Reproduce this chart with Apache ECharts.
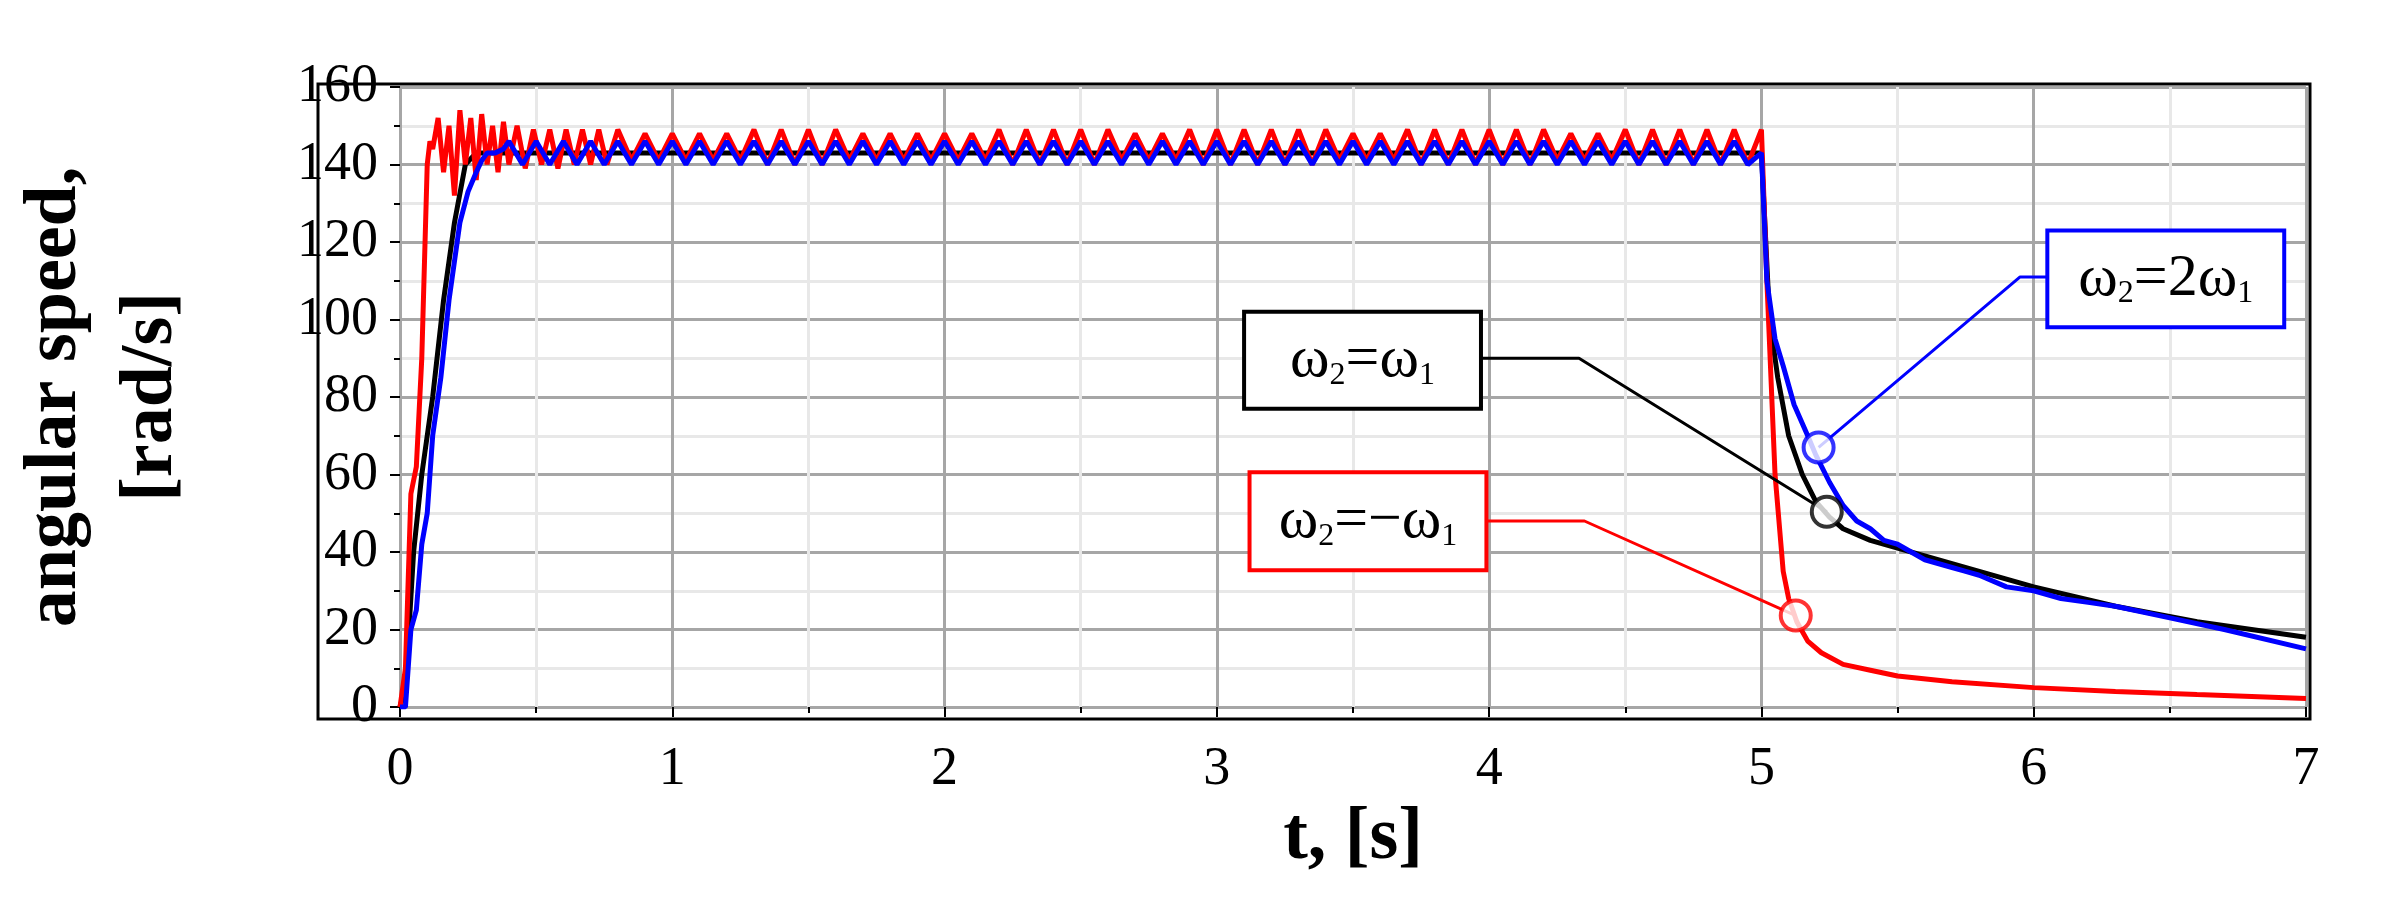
<!DOCTYPE html>
<html><head><meta charset="utf-8">
<script src="https://cdn.jsdelivr.net/npm/echarts@6/dist/echarts.min.js"></script>
<style>html,body{margin:0;padding:0;background:#fff}#c{width:2400px;height:906px}</style>
</head><body><div id="c"></div>
<script>
// time axis ticks
const xTicks = [0,1,2,3,4,5,6,7];
const yTicks = [0,20,40,60,80,100,120,140,160];
// red: omega2 = -omega1
const redT = [0,0.02,0.04,0.06,0.08,0.1,0.11,0.12,0.14,0.16,0.18,0.2,0.22,0.24,0.26,0.28,0.3,0.32,0.34,0.36,0.38,0.4,0.43,0.46,0.49,0.52,0.55,0.58,0.61,0.64,0.67,0.7,0.73,0.76,
 0.8,0.85,0.9,0.95,1.0,1.05,1.1,1.15,1.2,1.25,1.3,1.35,1.4,1.45,1.5,1.55,1.6,1.65,1.7,1.75,1.8,1.85,1.9,1.95,2.0,2.05,2.1,2.15,2.2,2.25,2.3,2.35,2.4,2.45,2.5,2.55,2.6,2.65,2.7,2.75,2.8,2.85,2.9,2.95,3.0,3.05,3.1,3.15,3.2,3.25,3.3,3.35,3.4,3.45,3.5,3.55,3.6,3.65,3.7,3.75,3.8,3.85,3.9,3.95,4.0,4.05,4.1,4.15,4.2,4.25,4.3,4.35,4.4,4.45,4.5,4.55,4.6,4.65,4.7,4.75,4.8,4.85,4.9,4.95,5.0,
 5.02,5.05,5.08,5.1,5.13,5.17,5.22,5.3,5.4,5.5,5.7,6.0,6.3,6.6,7.0];
const redV = [0,10,55,62,90,140,146,144,152,138,150,132,154,140,152,136,153,140,150,138,151,140,150,139,149,140,149,139,149,140,149,140,149,140,
 149,141,148,141,148,141,148,141,148,141,149,140,149,140,149,140,149,141,148,141,148,141,148,141,148,141,148,141,149,140,149,140,149,140,149,140,149,141,148,141,148,141,149,140,149,140,149,140,149,140,149,140,149,141,148,141,148,141,149,140,149,140,149,140,149,140,149,140,149,141,148,141,148,141,149,140,149,140,149,140,149,140,149,140,149,
 110,60,35,28,22,17,14,11,9.5,8,6.5,5,4,3.2,2.2];
// black: omega2 = omega1
const blackT = [0,0.02,0.05,0.08,0.12,0.16,0.2,0.24,0.28,0.35,0.5,1,2,3,4,5.0,5.03,5.06,5.1,5.15,5.2,5.25,5.3,5.4,5.5,5.7,6.0,6.3,6.6,7.0];
const blackV = [0,5,40,60,80,105,125,140,143,143,143,143,143,143,143,143,100,85,70,60,53,49,46,43,41,37,31,26,22,18];
// blue: omega2 = 2 omega1
const blueT = [0,0.02,0.04,0.06,0.08,0.1,0.12,0.15,0.18,0.2,0.22,0.25,0.28,0.3,0.32,0.35,0.38,
 0.4,0.45,0.5,0.55,0.6,0.65,0.7,0.75,0.8,0.85,0.9,0.95,1.0,1.05,1.1,1.15,1.2,1.25,1.3,1.35,1.4,1.45,1.5,1.55,1.6,1.65,1.7,1.75,1.8,1.85,1.9,1.95,2.0,2.05,2.1,2.15,2.2,2.25,2.3,2.35,2.4,2.45,2.5,2.55,2.6,2.65,2.7,2.75,2.8,2.85,2.9,2.95,3.0,3.05,3.1,3.15,3.2,3.25,3.3,3.35,3.4,3.45,3.5,3.55,3.6,3.65,3.7,3.75,3.8,3.85,3.9,3.95,4.0,4.05,4.1,4.15,4.2,4.25,4.3,4.35,4.4,4.45,4.5,4.55,4.6,4.65,4.7,4.75,4.8,4.85,4.9,4.95,5.0,
 5.02,5.05,5.08,5.12,5.17,5.2,5.25,5.3,5.35,5.4,5.45,5.5,5.55,5.6,5.7,5.75,5.8,5.9,6.0,6.1,6.2,6.3,6.5,6.7,7.0];
const blueV = [0,0,20,25,42,50,70,85,105,115,125,133,138,141,143,143,144,
 146,140,146,140,146,140,146,140,146,140,146,140,146,140,146,140,146,140,146,140,146,140,146,140,146,140,146,140,146,140,146,140,146,140,146,140,146,140,146,140,146,140,146,140,146,140,146,140,146,140,146,140,146,140,146,140,146,140,146,140,146,140,146,140,146,140,146,140,146,140,146,140,146,140,146,140,146,140,146,140,146,140,146,140,146,140,146,140,146,140,146,140,143,
 110,95,88,78,70,65,58,52,48,46,43,42,40,38,36,35,34,31,30,28,27,26,23,20,15];
// annotations: label, box corners, leader points, circle
const annLabels = ['ω{s|2}=ω{s|1}','ω{s|2}=−ω{s|1}','ω{s|2}=2ω{s|1}'];
const annColors = ['#000000','#ff0000','#0000ff'];
const annBoxes = [[[3.10,102],[3.97,77]],[[3.12,60.6],[3.99,35.3]],[[6.05,123],[6.92,98]]];
const annLeaders = [[[3.97,90],[4.33,90],[5.24,50.4]],[[3.99,48],[4.35,48],[5.126,23.6]],[[6.05,111],[5.95,111],[5.21,67]]];
const annCircles = [[5.24,50.4],[5.126,23.6],[5.21,67]];

const zip=(t,v)=>t.map((x,i)=>[x,v[i]]);
const serif='"Liberation Serif","DejaVu Serif",serif';
const series=[];
const mkLine=(name,t,v,color,w)=>({type:'line',name,data:zip(t,v),showSymbol:false,symbol:'none',lineStyle:{color,width:w},z:3});
series.push(mkLine('black',blackT,blackV,'#000',5));
series.push(mkLine('red',redT,redV,'#ff0000',5));
series.push(mkLine('blue',blueT,blueV,'#0000ff',5));
annLabels.forEach((lab,i)=>{
  series.push({type:'line',data:annLeaders[i],showSymbol:false,symbol:'none',lineStyle:{color:annColors[i],width:3},z:4,
    markArea:{silent:true,itemStyle:{color:'#fff',borderColor:annColors[i],borderWidth:4},
      label:{show:true,position:'inside',formatter:lab,color:'#000',fontFamily:serif,fontSize:60,
        rich:{s:{fontFamily:serif,fontSize:32,color:'#000',verticalAlign:'bottom',padding:[30,0,0,0]}}},
      data:[[{coord:annBoxes[i][0]},{coord:annBoxes[i][1]}]]}});
  series.push({type:'scatter',data:[annCircles[i]],symbol:'circle',symbolSize:30,itemStyle:{color:'#fff',borderColor:annColors[i],borderWidth:4},z:6});
});
const chart=echarts.init(document.getElementById('c'));
chart.setOption({
  animation:false,backgroundColor:'#fff',
  grid:{left:329,right:94,top:87,bottom:199},
  xAxis:{type:'value',min:0,max:7,interval:1,
    name:'t, [s]',nameLocation:'middle',nameGap:95,nameTextStyle:{fontFamily:serif,fontWeight:'bold',fontSize:74,color:'#000'},
    axisLine:{show:false},axisTick:{show:true,length:10,inside:false,lineStyle:{color:'#000',width:2}},
    minorTick:{show:true,splitNumber:2,length:6,lineStyle:{color:'#000',width:2}},
    axisLabel:{fontFamily:serif,fontSize:54,color:'#000',margin:36},
    splitLine:{show:true,lineStyle:{color:'#a6a6a6',width:3}},
    minorSplitLine:{show:true,lineStyle:{color:'#e8e8e8',width:3}}},
  yAxis:{type:'value',min:0,max:160,interval:20,
    name:'angular speed,\n[rad/s]',nameLocation:'middle',nameGap:200,nameRotate:90,
    nameTextStyle:{fontFamily:serif,fontWeight:'bold',fontSize:74,color:'#000',lineHeight:96},
    axisLine:{show:false},axisTick:{show:true,length:10,lineStyle:{color:'#000',width:2}},
    minorTick:{show:true,splitNumber:2,length:6,lineStyle:{color:'#000',width:2}},
    axisLabel:{fontFamily:serif,fontSize:54,color:'#000',margin:22},
    splitLine:{show:true,lineStyle:{color:'#a6a6a6',width:3}},
    minorSplitLine:{show:true,lineStyle:{color:'#e8e8e8',width:3}}},
  graphic:[{type:'rect',shape:{x:318,y:84,width:1992,height:635},style:{fill:'none',stroke:'#000',lineWidth:3},z:100,silent:true}],
  series
});
</script></body></html>
